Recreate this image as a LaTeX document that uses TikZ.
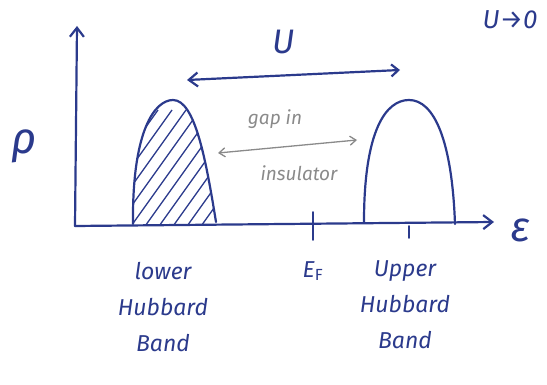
\documentclass[tikz,border=0pt]{standalone}
\usepackage{fontspec}
\setmainfont{Fira Sans}
\usetikzlibrary{arrows.meta}
\definecolor{ink}{HTML}{2B3A8C}
\definecolor{pencil}{HTML}{8A8A8A}
\begin{document}
\begin{tikzpicture}[x=1pt,y=-1pt,
  pen/.style={draw=ink,line width=2.2pt,line cap=round,line join=round},
  tip/.style={-{Straight Barb[length=9pt,width=14pt]}},
  lbl/.style={text=ink,font=\fontsize{23}{36}\selectfont\itshape,inner sep=1pt},
  big/.style={text=ink,font=\fontsize{#1}{#1}\selectfont\itshape,inner sep=1pt},
  note/.style={text=pencil,font=\fontsize{19}{21}\selectfont\itshape,inner sep=1pt}]
\useasboundingbox (0,0) rectangle (547,385);
% axes
\coordinate (o) at (75,226);
\coordinate (ytop) at (77,26);
\coordinate (xend) at (494,222);
\draw[pen,tip] (o) -- (ytop);
\draw[pen,tip] (o) -- (xend);
% Fermi level and band-centre ticks
\coordinate (ef) at (313,226);
\draw[pen,line width=1.8pt] (313,212) -- (313,240);
\draw[pen,line width=1.8pt] (409,226) -- (409,238);
% lower Hubbard band, filled (hatched)
\begin{scope}
  \clip (133,224) .. controls (132,130) and (155,100) .. (173,100)
        .. controls (195,100) and (206,160) .. (216,224) -- cycle;
  \foreach \s in {-42,-28,...,168}
    \draw[ink,line width=1.3pt] (100+\s,250) -- (200+\s,110);
\end{scope}
\draw[pen] (133,224) .. controls (132,130) and (155,100) .. (173,100)
        .. controls (195,100) and (206,160) .. (216,222);
% upper Hubbard band, empty
\draw[pen] (364,222) .. controls (364,130) and (386,100) .. (409,100)
        .. controls (434,100) and (452,140) .. (455,224);
% Coulomb splitting U
\coordinate (ua) at (187,80);
\coordinate (ub) at (400,70);
\draw[pen,{Straight Barb[length=9pt,width=14pt]}-{Straight Barb[length=7pt,width=12pt]}] (ua) -- (ub);
\node[big=34] (U) at (284,42) {U};
\node[big=26] (limit) at (510,20) {U→0};
% gap
\coordinate (ga) at (218,153);
\coordinate (gb) at (357,140);
\draw[pencil,line width=1.3pt,line cap=round,{Straight Barb[length=6pt,width=9pt]}-{Straight Barb[length=6pt,width=9pt]}] (ga) -- (gb);
\node[note] (gap) at (275,119) {gap in};
\node[note] (ins) at (299,173) {insulator};
% axis labels
\node[big=44] (rho) at (24,146) {ρ};
\node[big=42] (eps) at (521,230) {ε};
\node[lbl] (efl) at (313,271) {E$_{\mathrm F}$};
% band labels
\node[lbl,align=center] (lhb) at (163,307) {lower\\Hubbard\\Band};
\node[lbl,align=center] (uhb) at (405,305) {Upper\\Hubbard\\Band};
\end{tikzpicture}
\end{document}
